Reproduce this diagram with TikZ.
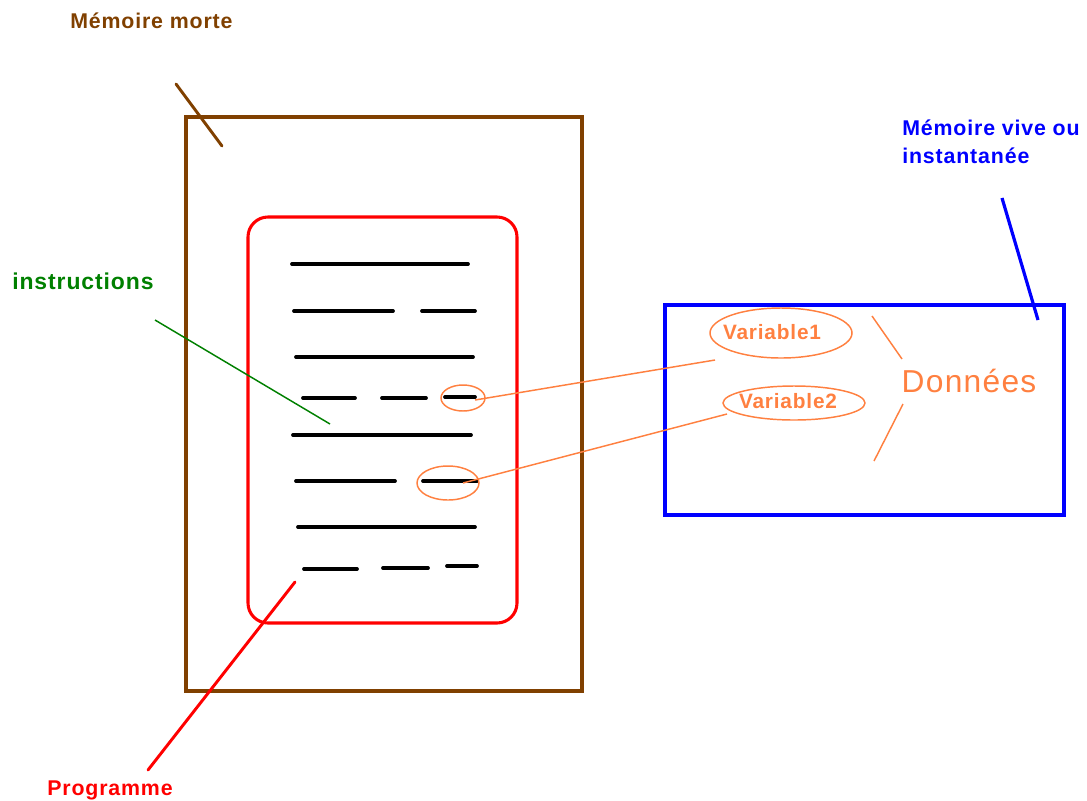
\documentclass[tikz,border=0pt]{standalone}
\usepackage{fontspec}
\setmainfont{Liberation Sans}
\newfontfamily\paintfont[LetterSpace=4]{Liberation Sans}
\usetikzlibrary{shapes.geometric,fit}
\definecolor{mbrown}{RGB}{128,64,0}
\definecolor{morange}{RGB}{255,128,64}
\definecolor{mgreen}{RGB}{0,128,0}
\definecolor{mblue}{RGB}{0,0,255}
\definecolor{mred}{RGB}{255,0,0}
\begin{document}
\begin{tikzpicture}[x=0.75pt,y=-0.75pt,
  lbl/.style={inner sep=0pt, font=\paintfont\bfseries\fontsize{16pt}{21pt}\selectfont},
  romframe/.style={draw=mbrown, line width=2.3pt, inner sep=0pt},
  ramframe/.style={draw=mblue, line width=2.8pt, inner sep=0pt},
  progframe/.style={draw=mred, line width=2.3pt, inner sep=0pt, rounded corners=15pt},
  codeline/.style={line width=2.8pt, line cap=round},
  thinorange/.style={draw=morange, line width=1.1pt},
  varell/.style={ellipse, draw=morange, line width=1.1pt, inner sep=0pt},
  vartext/.style={inner sep=0pt, text=morange, font=\paintfont\bfseries\fontsize{15.6pt}{18pt}\selectfont},
]
\useasboundingbox (0,0) rectangle (1087,800);

% frames
\node[romframe, fit={(186,117) (582,691)}] (rom) {};
\node[progframe, fit={(248,217) (517,623)}] (prog) {};
\node[ramframe, fit={(665,305) (1064,515)}] (ram) {};

% code lines
\draw[codeline] (292,264) -- (468,264);
\draw[codeline] (294,311) -- (393,311);
\draw[codeline] (422,311) -- (475,311);
\draw[codeline] (296,357) -- (473,357);
\draw[codeline] (303,398) -- (355,398);
\draw[codeline] (382,398) -- (426,398);
\draw[codeline] (445,397) -- (475,397);
\draw[codeline] (293,435) -- (471,435);
\draw[codeline] (296,481) -- (395,481);
\draw[codeline] (423,481) -- (477,481);
\draw[codeline] (298,527) -- (475,527);
\draw[codeline] (304,569) -- (357,569);
\draw[codeline] (383,568) -- (428,568);
\draw[codeline] (447,566) -- (477,566);

% small ellipses around variables in code
\node[varell, minimum width=33pt, minimum height=19.5pt] (e1) at (463,398) {};
\node[varell, minimum width=46.5pt, minimum height=25.5pt] (e2) at (448,483) {};

% variable ellipses in RAM
\node[varell, minimum width=106.5pt, minimum height=37.5pt] (v1) at (781,333) {};
\node[varell, minimum width=106.5pt, minimum height=25.5pt] (v2) at (794,403) {};
\node[vartext, anchor=base] (v1t) at (772,339) {Variable1};
\node[vartext, anchor=base] (v2t) at (788,408) {Variable2};

% links variables
\coordinate (e1in) at (475,400);
\coordinate (v1out) at (715,360);
\coordinate (e2in) at (463,483);
\coordinate (v2out) at (727,414);
\draw[thinorange] (e1in) -- (v1out);
\draw[thinorange] (e2in) -- (v2out);

% Données and its brace strokes
\node[inner sep=0pt, anchor=base, text=morange, font=\paintfont\fontsize{23.8pt}{28pt}\selectfont] (donnees) at (969,392) {Données};
\coordinate (b1a) at (872,316);
\coordinate (b1b) at (902,359);
\coordinate (b2a) at (903,404);
\coordinate (b2b) at (874,461);
\draw[thinorange] (b1a) -- (b1b);
\draw[thinorange] (b2a) -- (b2b);

% labels
\node[lbl, text=mbrown, anchor=base west] (romlbl) at (70,28) {Mémoire morte};
\coordinate (romtickA) at (176,84);
\coordinate (romtickB) at (222,146);
\draw[draw=mbrown, line width=2.2pt, line cap=round] (romtickA) -- (romtickB);

\node[lbl, text=mblue, anchor=base west] (ramlbl1) at (902,135) {Mémoire vive ou};
\node[lbl, text=mblue, anchor=base west] (ramlbl2) at (902,163) {instantanée};
\coordinate (ramtickA) at (1002,198);
\coordinate (ramtickB) at (1038,320);
\draw[draw=mblue, line width=2.4pt] (ramtickA) -- (ramtickB);

\node[lbl, text=mgreen, anchor=base west, font=\paintfont\bfseries\fontsize{17.2pt}{21pt}\selectfont] (instlbl) at (12,289) {instructions};
\coordinate (instA) at (155,320);
\coordinate (instB) at (330,424);
\draw[draw=mgreen, line width=1.1pt] (instA) -- (instB);

\node[lbl, text=mred, anchor=base west] (proglbl) at (47,795) {Programme};
\coordinate (progA) at (295,582);
\coordinate (progB) at (148,770);
\draw[draw=mred, line width=2.2pt, line cap=round] (progA) -- (progB);
\end{tikzpicture}
\end{document}
